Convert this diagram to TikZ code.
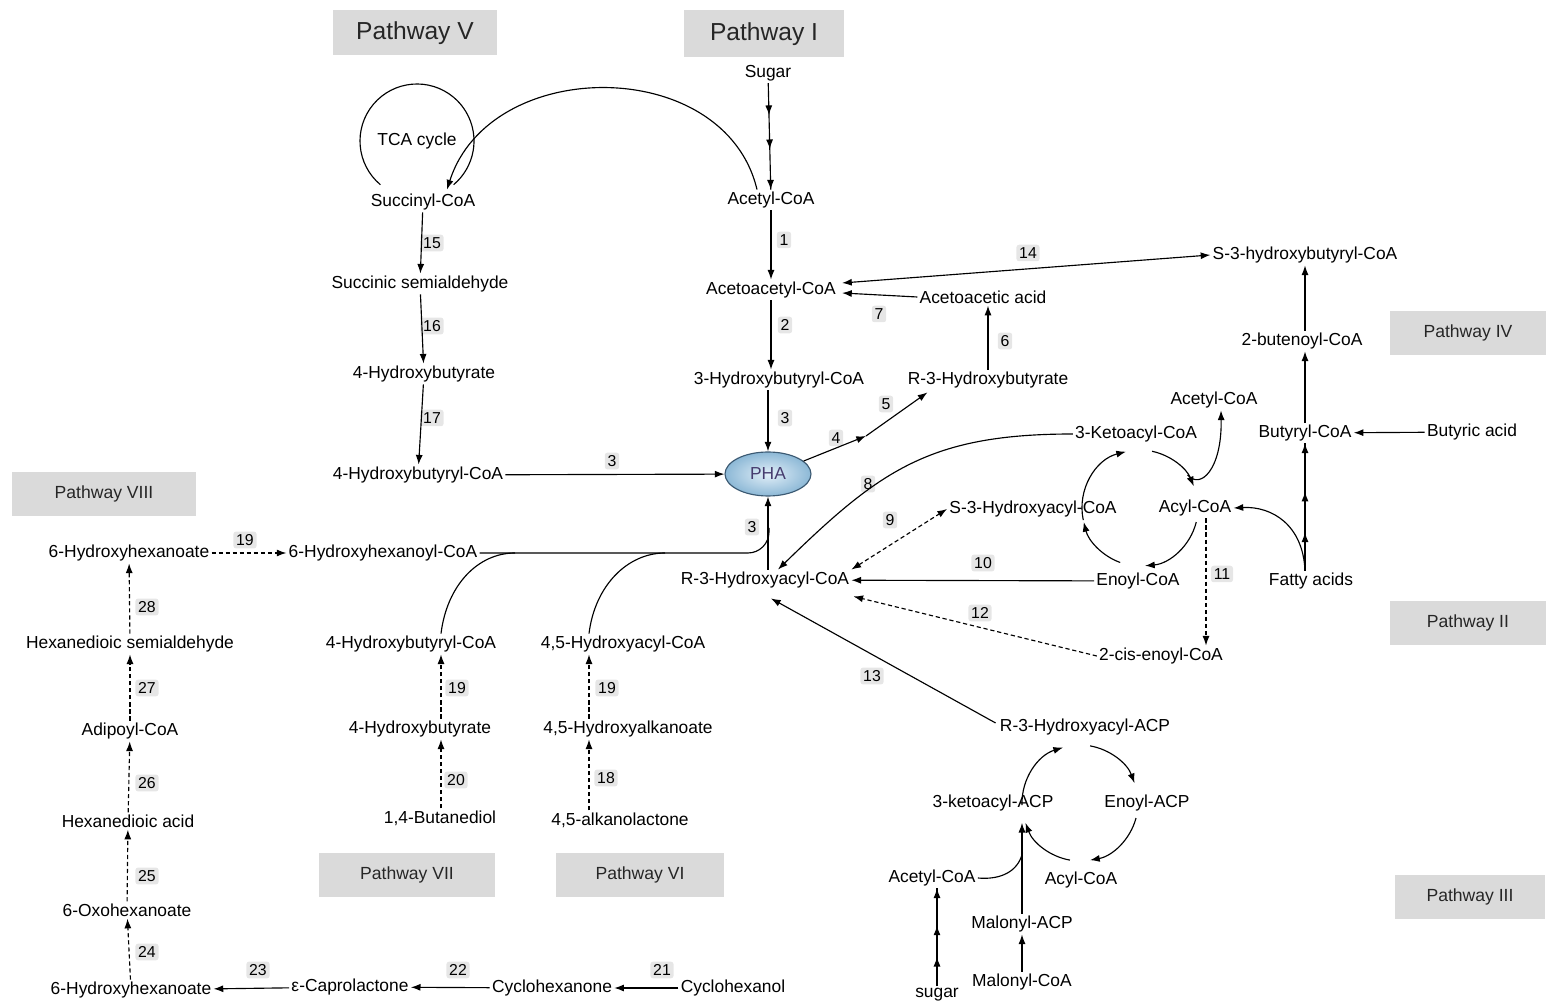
\documentclass[tikz,border=0pt]{standalone}
\usepackage{fontspec}
\setmainfont{Liberation Sans}
\usetikzlibrary{arrows.meta,calc,shapes.geometric,decorations.markings}
\definecolor{boxgray}{RGB}{218,218,218}
\definecolor{numgray}{RGB}{230,230,230}
\definecolor{phain}{RGB}{226,239,248}
\definecolor{phaout}{RGB}{140,184,214}
\definecolor{phaline}{RGB}{60,90,115}
\definecolor{phatext}{RGB}{70,60,110}

\begin{document}
\begin{tikzpicture}[x=0.02cm, y=-0.02cm,
  font=\fontsize{9.9}{11}\selectfont,
  line width=0.65pt,
  >={Latex[length=5.5pt,width=4pt]},
  every node/.style={inner sep=1pt},
  pathbox/.style={fill=boxgray, minimum height=0.9cm, text=black!85, font=\fontsize{10}{12}\selectfont},
  bigbox/.style={pathbox, font=\fontsize{14}{16}\selectfont},
  num/.style={fill=numgray, rounded corners=1.5pt, inner sep=1.6pt, font=\fontsize{9}{10}\selectfont},
  dsh/.style={dash pattern=on 2.4pt off 1.6pt},
  multi/.style={postaction={decorate}, decoration={markings,
      mark=at position 0.3 with {\arrow{Latex[length=5.5pt,width=4pt]}},
      mark=at position 0.62 with {\arrow{Latex[length=5.5pt,width=4pt]}},
      mark=at position 1 with {\arrow{Latex[length=5.5pt,width=4pt]}}}},
  phanode/.style={ellipse, draw=phaline, inner color=phain, outer color=phaout,
      minimum width=1.72cm, minimum height=0.88cm, inner sep=0pt, text=phatext}
]
  \useasboundingbox (0,0) rectangle (1546,1006);

  \node[bigbox, minimum width=3.28cm] (pathV) at (415,33) {Pathway V};
  \node[bigbox, minimum width=3.22cm, minimum height=0.94cm] (pathI) at (764,34) {Pathway I};
  \node[pathbox, minimum width=3.12cm] (pathIV) at (1468,333) {Pathway IV};
  \node[pathbox, minimum width=3.68cm] (pathVIII) at (104,494) {Pathway VIII};
  \node[pathbox, minimum width=3.12cm] (pathII) at (1468,623) {Pathway II};
  \node[pathbox, minimum width=3.54cm] (pathVII) at (407,875) {Pathway VII};
  \node[pathbox, minimum width=3.36cm] (pathVI) at (640,875) {Pathway VI};
  \node[pathbox, minimum width=3.02cm] (pathIII) at (1470,897) {Pathway III};

  \node (sugar) at (768,73) {Sugar};
  \node (tca) at (417,141) {TCA cycle};
  \node (succoa) at (423,202) {Succinyl-CoA};
  \node (accoa) at (771,200) {Acetyl-CoA};
  \node (ssa) at (420,284) {Succinic semialdehyde};
  \node (aacoa) at (771,290) {Acetoacetyl-CoA};
  \node (aac) at (983,297) {Acetoacetic acid};
  \node (shbcoa) at (1305,255) {S-3-hydroxybutyryl-CoA};
  \node (hb) at (424,374) {4-Hydroxybutyrate};
  \node (hbucoa) at (779,380) {3-Hydroxybutyryl-CoA};
  \node (rhb) at (988,380) {R-3-Hydroxybutyrate};
  \node (butenoyl) at (1302,341) {2-butenoyl-CoA};
  \node (accoaB) at (1214,400) {Acetyl-CoA};
  \node (keto) at (1136,434) {3-Ketoacyl-CoA};
  \node (butyryl) at (1305,433) {Butyryl-CoA};
  \node (butyric) at (1472,432) {Butyric acid};
  \node (hbcoa) at (418,475) {4-Hydroxybutyryl-CoA};
  \node[phanode] (pha) at (768,474) {PHA};
  \node (s3ha) at (1033,509) {S-3-Hydroxyacyl-CoA};
  \node (acyl) at (1195,508) {Acyl-CoA};
  \node (hhex) at (129,553) {6-Hydroxyhexanoate};
  \node (hhexcoa) at (383,553) {6-Hydroxyhexanoyl-CoA};
  \node (r3ha) at (765,580) {R-3-Hydroxyacyl-CoA};
  \node (enoyl) at (1138,581) {Enoyl-CoA};
  \node (fatty) at (1311,581) {Fatty acids};
  \node (hsa) at (130,644) {Hexanedioic semialdehyde};
  \node (hbcoaB) at (411,644) {4-Hydroxybutyryl-CoA};
  \node (hacoa) at (623,644) {4,5-Hydroxyacyl-CoA};
  \node (ciscoa) at (1161,656) {2-cis-enoyl-CoA};
  \node (r3acp) at (1085,727) {R-3-Hydroxyacyl-ACP};
  \node (adip) at (130,731) {Adipoyl-CoA};
  \node (hbB) at (420,729) {4-Hydroxybutyrate};
  \node (halk) at (628,729) {4,5-Hydroxyalkanoate};
  \node (ketoacp) at (993,803) {3-ketoacyl-ACP};
  \node (enoylacp) at (1147,803) {Enoyl-ACP};
  \node (hexacid) at (128,821) {Hexanedioic acid};
  \node (bdiol) at (440,818) {1,4-Butanediol};
  \node (lactone) at (620,820) {4,5-alkanolactone};
  \node (accoaF) at (932,878) {Acetyl-CoA};
  \node (acylF) at (1081,880) {Acyl-CoA};
  \node (oxo) at (127,910) {6-Oxohexanoate};
  \node (macp) at (1022,924) {Malonyl-ACP};
  \node (mcoa) at (1022,982) {Malonyl-CoA};
  \node (sugarF) at (937,995) {sugar};
  \node (hhexB) at (131,990) {6-Hydroxyhexanoate};
  \node (capro) at (350,987) {ε-Caprolactone};
  \node (cyone) at (552,988) {Cyclohexanone};
  \node (cyol) at (733,988) {Cyclohexanol};

  \node[num] (n1) at (784,240) {1};
  \node[num] (n2) at (785,325) {2};
  \node[num] (n3a) at (785,418) {3};
  \node[num] (n3b) at (612,461) {3};
  \node[num] (n3c) at (752,527) {3};
  \node[num] (n4) at (836,438) {4};
  \node[num] (n5) at (886,404) {5};
  \node[num] (n6) at (1005,341) {6};
  \node[num] (n7) at (879,314) {7};
  \node[num] (n8) at (868,484) {8};
  \node[num] (n9) at (890,520) {9};
  \node[num] (n10) at (983,563) {10};
  \node[num] (n11) at (1222,574) {11};
  \node[num] (n12) at (980,613) {12};
  \node[num] (n13) at (872,676) {13};
  \node[num] (n14) at (1028,253) {14};
  \node[num] (n15) at (432,243) {15};
  \node[num] (n16) at (432,326) {16};
  \node[num] (n17) at (432,418) {17};
  \node[num] (n18) at (606,778) {18};
  \node[num] (n19a) at (245,540) {19};
  \node[num] (n19b) at (457,688) {19};
  \node[num] (n19c) at (607,688) {19};
  \node[num] (n20) at (456,780) {20};
  \node[num] (n21) at (662,970) {21};
  \node[num] (n22) at (458,970) {22};
  \node[num] (n23) at (258,970) {23};
  \node[num] (n24) at (147,952) {24};
  \node[num] (n25) at (147,876) {25};
  \node[num] (n26) at (147,783) {26};
  \node[num] (n27) at (147,688) {27};
  \node[num] (n28) at (147,607) {28};

  \coordinate (m45) at (866,436);
  \coordinate (jn) at (769,528);
  \coordinate (j7) at (515,553);
  \coordinate (j6) at (665,553);
  \coordinate (c7) at (441,0);
  \coordinate (c6) at (589,0);
  \coordinate (c11) at ($(acyl.south)+(11,0)$);
  \coordinate (bcen) at (1140,508);
  \coordinate (fcen) at (1080,803);
  \path (bcen) ++(325:58) coordinate (bsplit);
  \path (fcen) ++(160:58) coordinate (fjoin);
  \coordinate (fmeet) at ($(fjoin)+(-3,30)$);

  \draw[multi] (sugar) -- (accoa);
  \draw[->] (accoa) -- (aacoa);
  \draw[->] (aacoa) -- (aacoa |- hbucoa.north);
  \draw[->] (hbucoa.south -| pha.north) -- (pha.north);
  \draw[<->] ($(aacoa.east)+(4,-7)$) -- (shbcoa.west);
  \draw[->] (aac.west) -- ($(aacoa.east)+(4,3)$);
  \draw[->] (rhb.north) -- (rhb.north |- aac.south);
  \draw[->] (pha.20) -- (m45);
  \draw[->] (m45) -- ($(rhb.south west)+(22,2)$);

  \draw[->] ($(accoa.north)+(-14,0)$) .. controls (725,55) and (490,55) .. ($(succoa.north)+(24,-2)$);
  \draw (tca) ++(130:57) arc[start angle=130, end angle=410, radius=57];
  \draw[->] (succoa) -- (ssa);
  \draw[->] (ssa) -- (hb);
  \draw[->] (hb) -- (hbcoa);
  \draw[->] (hbcoa) -- (pha);

  \draw[->] (keto.west) .. controls (930,434) and (880,470) .. ($(r3ha.north)+(13,0)$);
  \draw[dsh,<->] (r3ha.north east) -- (s3ha.west);
  \draw[->] (enoyl) -- (r3ha);
  \draw[dsh,->] (c11) -- (c11 |- ciscoa.north);
  \draw[dsh,->] (ciscoa.west) -- ($(r3ha.south east)+(2,6)$);
  \draw[->] ($(r3acp.west)+(-2,-4)$) -- ($(r3ha.south)+(6,8)$);

  \draw[->] (bcen) ++(14:58) arc[start angle=14, end angle=85, radius=58];
  \draw[->] (bcen) ++(110:58) arc[start angle=110, end angle=166, radius=58];
  \draw[->] (bcen) ++(168:58) arc[start angle=168, end angle=256, radius=58];
  \draw[->] (bcen) ++(282:58) arc[start angle=282, end angle=338, radius=58];
  \draw[->] (bsplit) .. controls (1200,490) and (1222,470) .. ($(accoaB.south)+(7,0)$);

  \draw[->] (butyryl.north) -- (butyryl.north |- butenoyl.south);
  \draw[->] (butyryl.north |- butenoyl.north) -- (butyryl.north |- shbcoa.south);
  \draw[->] (butyric) -- (butyryl);
  \draw[multi] (fatty.north -| butyryl.south) -- (butyryl.south);
  \draw[->] (fatty.north -| butyryl.south) .. controls (1303,525) and (1272,506) .. (acyl.east);

  \draw[->] (fcen) ++(178:58) arc[start angle=178, end angle=253, radius=58];
  \draw[->] (fcen) ++(280:58) arc[start angle=280, end angle=340, radius=58];
  \draw[->] (fcen) ++(15:58) arc[start angle=15, end angle=80, radius=58];
  \draw[->] (fcen) ++(100:58) arc[start angle=100, end angle=160, radius=58];
  \draw[->] (macp.north) -- (macp.north |- fjoin);
  \draw (accoaF.east) .. controls (1000,880) and (1018,872) .. (fmeet);
  \draw[->] (mcoa) -- (macp);
  \draw[multi] (sugarF.north) -- (sugarF.north |- accoaF.south);

  \draw[->] (r3ha.north -| pha.south) -- (pha.south);
  \draw[rounded corners=12pt] (hhexcoa.east) -- (hhexcoa.east -| jn) -- (jn);
  \draw (c7 |- hbcoaB.north) .. controls (447,585) and (478,553) .. (j7);
  \draw (c6 |- hacoa.north) .. controls (595,585) and (628,553) .. (j6);
  \draw[dsh,->] (c7 |- bdiol.north) -- (c7 |- hbB.south);
  \draw[dsh,->] (c7 |- hbB.north) -- (c7 |- hbcoaB.south);
  \draw[dsh,->] (c6 |- lactone.north) -- (c6 |- halk.south);
  \draw[dsh,->] (c6 |- halk.north) -- (c6 |- hacoa.south);

  \draw[dsh,->] (hhex) -- (hhexcoa);
  \draw[dsh,->] (hsa) -- (hhex);
  \draw[dsh,->] (adip) -- (hsa);
  \draw[dsh,->] (hexacid) -- (adip);
  \draw[dsh,->] (oxo) -- (hexacid);
  \draw[dsh,->] (hhexB) -- (oxo);
  \draw[->] (capro) -- (hhexB);
  \draw[->] (cyone) -- (capro);
  \draw[->] (cyol) -- (cyone);
\end{tikzpicture}
\end{document}
